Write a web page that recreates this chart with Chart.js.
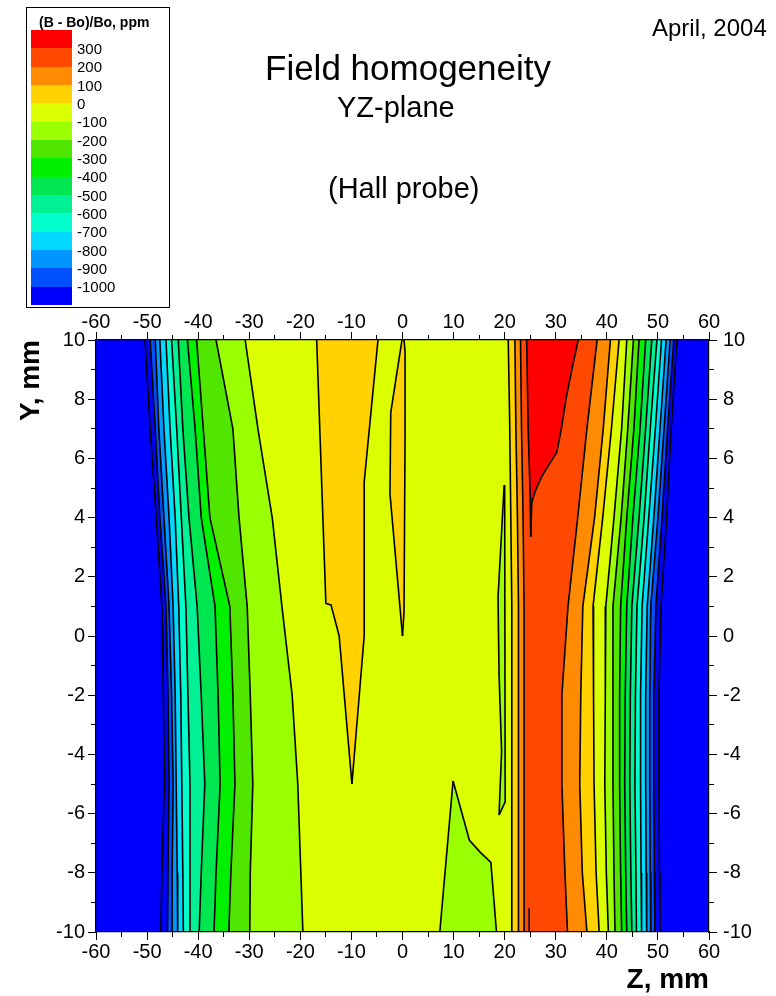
<!DOCTYPE html>
<html>
<head>
<meta charset="utf-8">
<title>Field homogeneity - YZ-plane</title>
<script src="https://cdn.jsdelivr.net/npm/chart.js@4.4.1/dist/chart.umd.min.js"></script>
<style>
  html, body { margin: 0; padding: 0; background: #fff; }
  #page {
    position: relative; width: 776px; height: 996px; overflow: hidden;
    font-family: 'Liberation Sans', Arial, Helvetica, sans-serif; color: #000;
  }
  #chart { position: absolute; left: 0; top: 0; }
  .txt { position: absolute; white-space: nowrap; line-height: 1; }
  #legendBox { position: absolute; left: 26px; top: 7px; width: 144px; height: 301px;
    border: 1px solid #000; box-sizing: border-box; }
  .swatch { position: absolute; left: 31px; width: 41px; }
  .lvl { position: absolute; left: 77px; font-size: 15px; line-height: 1; white-space: nowrap; }
</style>
</head>
<body>
<div id="page">
  <canvas id="chart" width="776" height="996"></canvas>
  <div id="legendBox"></div>
  <div class="txt" style="left:39px; top:14.6px; font-size:14px; font-weight:bold;">(B - Bo)/Bo, ppm</div>
  <div class="txt" style="left:652px; top:16.4px; font-size:24px;">April, 2004</div>
  <div class="txt" style="left:265px; top:50.4px; font-size:35px;">Field homogeneity</div>
  <div class="txt" style="left:337px; top:92.5px; font-size:29px;">YZ-plane</div>
  <div class="txt" style="left:328px; top:173.5px; font-size:29px;">(Hall probe)</div>
</div>
<script>
// axis ranges, mm
const zMin = -60, zMax = 60, yMin = -10, yMax = 10;

// colour bar: level labels (top to bottom) and the 15 band colours
const legendLevels = [300, 200, 100, 0, -100, -200, -300, -400, -500, -600, -700, -800, -900, -1000];
const bandColors = ['#ff0000', '#ff4800', '#ff8c00', '#ffd200', '#dcff00', '#9aff00', '#50e600',
  '#00f000', '#00e650', '#00f096', '#00ffcc', '#00d8ff', '#0096ff', '#0050ff', '#0000ff'];

// rows (Y, mm) at which every full-height contour is sampled
const rowsY = [10, 7, 4, 1, -2, -5, -8, -10];

// full-height contour lines, left to right, level in ppm
const lineLevels = [-1100, -1000, -900, -800, -700, -600, -500, -400, -300, -200, -100, 0, 100, 200,
  200, 100, 0, -100, -200, -300, -400, -500, -600, -700, -800, -900, -1000, -1100];

// Z (mm) of each contour line at rowsY
const lineZ = [
  [-50.4, -49.4, -48.2, -47.1, -46.8, -46.6, -47.1, -47.3],
  [-49.4, -48.4, -47.5, -46.3, -45.9, -45.7, -45.9, -46.0],
  [-48.4, -47.7, -46.7, -45.7, -45.2, -44.9, -45.1, -45.1],
  [-47.5, -46.7, -45.7, -44.9, -44.5, -44.3, -44.1, -44.0],
  [-46.3, -45.5, -44.5, -43.8, -43.4, -43.2, -43.0, -42.9],
  [-45.2, -44.2, -43.3, -42.4, -42.0, -41.6, -41.6, -41.6],
  [-43.9, -43.0, -41.8, -40.2, -39.4, -38.7, -39.4, -39.8],
  [-42.1, -40.6, -39.4, -36.7, -36.1, -35.7, -36.5, -36.9],
  [-40.3, -39.0, -37.7, -33.8, -33.2, -32.8, -33.6, -34.0],
  [-36.5, -33.2, -32.0, -30.4, -29.8, -29.3, -29.8, -29.9],
  [-30.8, -28.3, -25.5, -23.6, -21.6, -20.5, -19.9, -19.5],
  [20.7, 21.0, 21.2, 21.4, 21.4, 21.4, 21.4, 21.4],
  [22.0, 22.2, 22.5, 22.7, 22.7, 22.7, 22.7, 22.7],
  [23.1, 23.3, 23.6, 23.8, 23.8, 23.8, 23.8, 23.8],
  [38.1, 36.1, 34.3, 32.4, 31.2, 31.2, 31.8, 32.3],
  [40.7, 39.3, 37.6, 35.3, 34.9, 34.7, 35.2, 36.1],
  [42.4, 40.9, 39.2, 37.3, 37.4, 37.5, 37.9, 38.5],
  [43.9, 42.9, 41.4, 39.8, 39.7, 39.6, 39.9, 40.3],
  [45.2, 44.1, 42.8, 41.2, 41.2, 41.2, 41.4, 41.6],
  [46.3, 45.3, 43.9, 42.7, 42.5, 42.5, 42.7, 42.9],
  [47.6, 46.5, 45.1, 43.9, 43.6, 43.5, 43.7, 43.9],
  [48.8, 47.6, 46.3, 44.9, 44.6, 44.5, 44.7, 44.9],
  [49.8, 48.5, 47.3, 45.9, 45.6, 45.5, 45.7, 45.8],
  [50.7, 49.5, 48.2, 46.9, 46.6, 46.6, 46.7, 46.8],
  [51.6, 50.4, 49.2, 47.9, 47.6, 47.6, 47.7, 47.8],
  [52.4, 51.2, 50.0, 48.6, 48.4, 48.4, 48.5, 48.6],
  [53.1, 51.9, 50.8, 49.6, 49.2, 49.2, 49.3, 49.4],
  [53.7, 52.6, 51.7, 50.6, 50.2, 50.2, 50.3, 50.4]
];

// closed contours (islands): [Z, Y] pairs, west and east side, top to bottom
const goldIslandWest = [[-16.8, 10], [-15.0, 1.1], [-14.0, 1.05], [-12.4, 0], [-9.9, -5]];
const goldIslandEast = [[-4.8, 10], [-7.5, 5.2], [-7.5, 0], [-9.9, -5]];
const goldSliverWest = [[-0.1, 10], [-2.3, 7.55], [-2.45, 4.8], [0, 0]];
const goldSliverEast = [[0.3, 10], [0.5, 9.6], [0.5, 6.7], [0.3, 0.8], [0, 0]];
const greenIslandWest = [[9.9, -4.9], [7.3, -10]];
const greenIslandEast = [[9.9, -4.9], [13.1, -6.9], [15.2, -7.3], [17.3, -7.65], [18.4, -10]];
const greenSliverWest = [[19.9, 5.1], [18.7, 1.3], [18.9, -1.3], [19.4, -3.9], [18.9, -6.05]];
const greenSliverEast = [[20.0, 5.1], [20.1, -5.6], [18.9, -6.05]];
const redWest = [[24.3, 10], [24.6, 7], [25.0, 4.7], [25.1, 3.35]];
const redEast = [[34.4, 10], [33.4, 9.2], [32.1, 8.1], [31.1, 7], [30.2, 6.2], [28.9, 5.85],
  [27.3, 5.4], [26.0, 4.9], [25.3, 4.5], [25.1, 3.35]];
const redTipBottom = [[24.8, -9.2], [24.8, -10]];

// island sides and the value inside them (ppm)
const islandSides = [
  [goldIslandWest, goldIslandEast, 50],
  [goldSliverWest, goldSliverEast, 50],
  [greenIslandWest, greenIslandEast, -150],
  [greenSliverWest, greenSliverEast, -150],
  [redWest, redEast, 350]
];

function colorForValue(v) {
  for (let k = 0; k < legendLevels.length; k++) {
    if (v > legendLevels[k]) return bandColors[k];
  }
  return bandColors[bandColors.length - 1];
}
function bandColor(a, b) {
  return colorForValue(a === b ? a + 50 : (a + b) / 2);
}

// colour bar
const page = document.getElementById('page');
const barTop = 30, bandH = 18.33;
bandColors.forEach((c, k) => {
  const d = document.createElement('div');
  d.className = 'swatch';
  const t = Math.round(barTop + k * bandH), b = Math.round(barTop + (k + 1) * bandH);
  d.style.top = t + 'px';
  d.style.height = (b - t) + 'px';
  d.style.background = c;
  page.appendChild(d);
});
legendLevels.forEach((lv, k) => {
  const d = document.createElement('div');
  d.className = 'lvl';
  d.textContent = lv;
  d.style.top = (barTop + (k + 1) * bandH - 7.3) + 'px';
  page.appendChild(d);
});

// datasets: edges + full-height contours, each filled to the previous one
const edgeLevel = -1200;
const seqLevels = [edgeLevel, ...lineLevels, edgeLevel];
const seqZ = [rowsY.map(() => zMin), ...lineZ, rowsY.map(() => zMax)];
const last = seqZ.length - 1;

const datasets = seqZ.map((zs, i) => ({
  label: i === 0 || i === last ? 'edge' : lineLevels[i - 1] + ' ppm',
  data: zs.map((z, r) => ({ x: z, y: rowsY[r] })),
  indexAxis: 'y',
  borderColor: i === 0 || i === last ? 'rgba(0,0,0,0)' : '#000',
  borderWidth: i === 0 || i === last ? 0 : 1.6,
  backgroundColor: i > 0 ? bandColor(seqLevels[i - 1], seqLevels[i]) : 'rgba(0,0,0,0)',
  fill: i > 0 ? '-1' : false,
  order: 1
}));

islandSides.forEach(([west, east, inside]) => {
  datasets.push({
    label: 'island',
    data: west.map(p => ({ x: p[0], y: p[1] })),
    indexAxis: 'y', borderColor: '#000', borderWidth: 1.6, fill: false, order: 0
  });
  datasets.push({
    label: 'island',
    data: east.map(p => ({ x: p[0], y: p[1] })),
    indexAxis: 'y', borderColor: '#000', borderWidth: 1.6,
    backgroundColor: colorForValue(inside), fill: '-1', order: 0
  });
});
datasets.push({
  label: 'tip',
  data: redTipBottom.map(p => ({ x: p[0], y: p[1] })),
  indexAxis: 'y', borderColor: '#000', borderWidth: 1.6, fill: false, order: 0
});

const fontFamily = "'Liberation Sans', Arial, Helvetica, sans-serif";
const tickFont = { family: fontFamily, size: 20 };
const titleFont = { family: fontFamily, size: 28, weight: 'bold', lineHeight: 1 };

function majorAxis(position, min, max, step, size, pad, extra) {
  const horizontal = position === 'top' || position === 'bottom';
  return Object.assign({
    type: 'linear', position, min, max, weight: 1,
    ticks: { stepSize: step, autoSkip: false, maxRotation: 0, color: '#000', font: tickFont, padding: pad },
    grid: { drawOnChartArea: false, drawTicks: true, tickLength: 8, color: '#000', lineWidth: 1 },
    border: { display: true, color: '#000', width: 1.2, z: 1 },
    afterFit: s => { if (horizontal) s.height = size; else s.width = size; }
  }, extra);
}
function minorAxis(position, min, max, step) {
  const horizontal = position === 'top' || position === 'bottom';
  return {
    type: 'linear', position, min, max, weight: 0,
    ticks: { display: false, stepSize: step, autoSkip: false },
    grid: { drawOnChartArea: false, drawTicks: true, tickLength: 5, color: '#000', lineWidth: 1 },
    border: { display: false },
    afterFit: s => { if (horizontal) s.height = 0; else s.width = 0; }
  };
}

const ctx = document.getElementById('chart');
new Chart(ctx, {
  type: 'line',
  data: { datasets },
  options: {
    indexAxis: 'y',
    responsive: false,
    devicePixelRatio: 1,
    animation: false,
    events: [],
    layout: { padding: { top: 300, left: 0, right: 0, bottom: 0 } },
    elements: { point: { radius: 0, hitRadius: 0 }, line: { tension: 0 } },
    plugins: {
      legend: { display: false },
      tooltip: { enabled: false },
      filler: { propagate: false }
    },
    scales: {
      x: majorAxis('bottom', zMin, zMax, 10, 64, 0, {
        title: { display: true, text: 'Z, mm', align: 'end', color: '#000', font: titleFont, padding: { top: 0, bottom: 2 } }
      }),
      xMinor: minorAxis('bottom', zMin, zMax, 5),
      xTop: majorAxis('top', zMin, zMax, 10, 40, -2),
      xTopMinor: minorAxis('top', zMin, zMax, 5),
      y: majorAxis('left', yMin, yMax, 2, 96, 3, {
        title: { display: true, text: 'Y, mm', align: 'end', color: '#000', font: titleFont, padding: { top: 17, bottom: 0 } }
      }),
      yMinor: minorAxis('left', yMin, yMax, 1),
      yRight: majorAxis('right', yMin, yMax, 2, 67, 6),
      yRightMinor: minorAxis('right', yMin, yMax, 1)
    }
  }
});
</script>
</body>
</html>
